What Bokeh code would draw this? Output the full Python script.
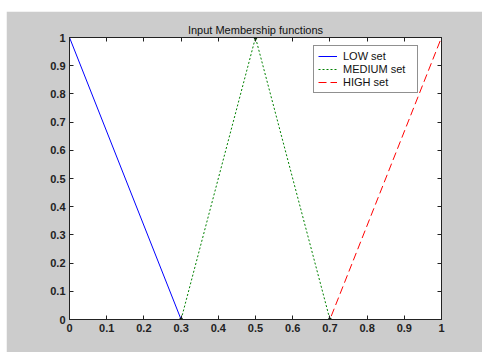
from bokeh.plotting import figure
from bokeh.models import Range1d, LinearAxis, FixedTicker, Legend, LegendItem
from bokeh.embed import file_html
from bokeh.resources import INLINE

# Data
x_low = [0.0, 0.3, 1.0]
y_low = [1.0, 0.0, 0.0]
x_med = [0.0, 0.3, 0.5, 0.7, 1.0]
y_med = [0.0, 0.0, 1.0, 0.0, 0.0]
x_high = [0.0, 0.7, 1.0]
y_high = [0.0, 0.0, 1.0]
x_vertex = [0.3, 0.5, 0.7]
y_vertex = [0.0, 1.0, 0.0]
ticks = [0, 0.1, 0.2, 0.3, 0.4, 0.5, 0.6, 0.7, 0.8, 0.9, 1]
tick_labels = {0: "0", 0.1: "0.1", 0.2: "0.2", 0.3: "0.3", 0.4: "0.4", 0.5: "0.5",
               0.6: "0.6", 0.7: "0.7", 0.8: "0.8", 0.9: "0.9", 1: "1"}
names = ["LOW set", "MEDIUM set", "HIGH set"]

FONT = "Liberation Sans"
GRAY = "#cccccc"

p = figure(width=476, height=341, output_backend="svg", toolbar_location=None,
           x_range=Range1d(0, 1), y_range=Range1d(0, 1),
           min_border_left=63, min_border_right=41, min_border_top=26, min_border_bottom=33,
           x_axis_location=None, y_axis_location=None,
           title="Input Membership functions")
p.margin = (11, 0, 0, 6)
p.background_fill_color = "white"
p.border_fill_color = GRAY
p.outline_line_color = "#222222"
p.grid.visible = False

p.title.align = "center"
p.title.text_font = FONT
p.title.text_font_size = "11px"
p.title.text_font_style = "normal"
p.title.text_color = "#111111"
p.title.offset = 0
p.title.standoff = 4

def make_axis(show_labels):
    if show_labels:
        ax = LinearAxis(ticker=FixedTicker(ticks=ticks))
        ax.major_tick_in = 4
        ax.major_tick_out = 0
        ax.major_label_overrides = tick_labels
        ax.major_label_text_font = FONT
        ax.major_label_text_font_size = "11px"
        ax.major_label_text_font_style = "bold"
        ax.major_label_text_color = "#222222"
        ax.major_label_standoff = 4
        ax.minor_tick_in = 0
        ax.minor_tick_out = 0
    else:
        # ticks only (as minor ticks, which carry no labels)
        ax = LinearAxis(ticker=FixedTicker(ticks=[], minor_ticks=ticks))
        ax.minor_tick_in = 4
        ax.minor_tick_out = 0
        ax.major_tick_in = 0
        ax.major_tick_out = 0
        ax.minor_tick_line_color = "#222222"
    ax.axis_line_color = "#222222"
    ax.major_tick_line_color = "#222222"
    return ax

p.add_layout(make_axis(True), "below")
p.add_layout(make_axis(True), "left")
p.add_layout(make_axis(False), "above")
p.add_layout(make_axis(False), "right")

r_low = p.line(x_low, y_low, line_color="#0000ff", line_width=1)
r_med = p.line(x_med, y_med, line_color="#008000", line_width=1, line_dash="2 2")
r_high = p.line(x_high, y_high, line_color="#ff0000", line_width=1, line_dash="8 4")
p.scatter(x_vertex, y_vertex, size=3, color="#002200")

legend = Legend(items=[LegendItem(label=names[0], renderers=[r_low]),
                       LegendItem(label=names[1], renderers=[r_med]),
                       LegendItem(label=names[2], renderers=[r_high])],
                location=(244, 226))
legend.label_text_font = FONT
legend.label_text_font_size = "11px"
legend.label_text_color = "#111111"
legend.glyph_width = 19
legend.glyph_height = 12
legend.label_height = 12
legend.label_width = 70
legend.label_standoff = 6
legend.spacing = 1
legend.padding = 4
legend.margin = 0
legend.border_line_color = "#222222"
legend.background_fill_color = "white"
legend.background_fill_alpha = 1
p.add_layout(legend, "center")

open("out.html", "w").write(file_html(p, INLINE))
